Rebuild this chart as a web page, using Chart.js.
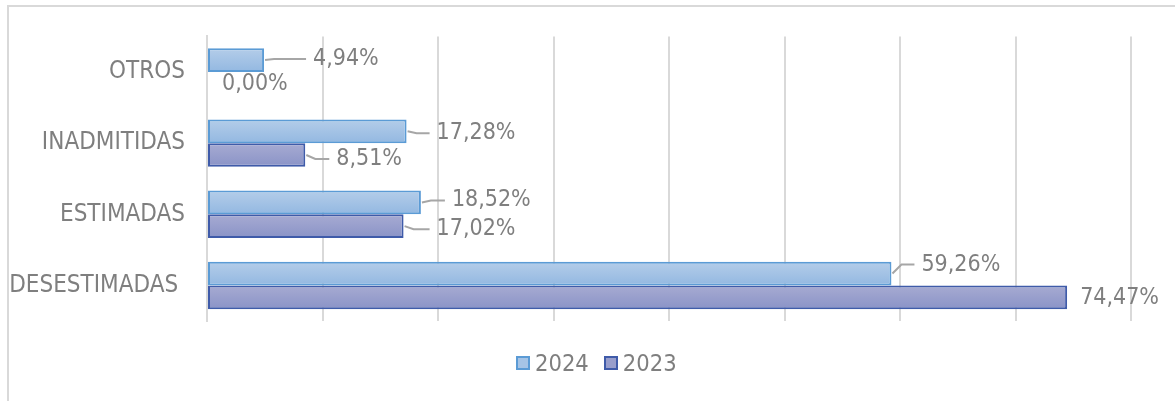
<!DOCTYPE html>
<html>
<head>
<meta charset="utf-8">
<script src="https://cdn.jsdelivr.net/npm/chart.js@4"></script>
<style>
  body { margin: 0; background: #fff; }
  #wrap { position: relative; width: 1175px; height: 401px; overflow: hidden; }
  #frame { position: absolute; left: 7px; top: 5px; width: 1200px; height: 420px;
           border-top: 2px solid #d9d9d9; border-left: 2px solid #d9d9d9; }
  canvas { position: absolute; left: 0; top: 0; }
  #legend { position: absolute; top: 349px; left: 516px; font: 23.5px 'DejaVu Sans Condensed', 'DejaVu Sans', sans-serif;
            color: #7f7f7f; display: flex; align-items: center; white-space: nowrap; }
  #legend span.box { display: inline-block; width: 10px; height: 10px; border: 2px solid; margin-right: 5px; }
  #legend span.item { display: inline-flex; align-items: center; margin-right: 15px; }
</style>
</head>
<body>
<div id="wrap">
  <div id="frame"></div>
  <canvas id="chart" width="1175" height="401"></canvas>
  <div id="legend">
    <span class="item"><span class="box" style="background:#a6c4e6;border-color:#5b9bd5"></span>2024</span>
    <span class="item"><span class="box" style="background:#989ecc;border-color:#3f5ba9"></span>2023</span>
  </div>
</div>
<script>
// data
const categories = ['OTROS', 'INADMITIDAS', 'ESTIMADAS', 'DESESTIMADAS '];
const values2024 = [4.94, 17.28, 18.52, 59.26];
const values2023 = [0, 8.51, 17.02, 74.47];
const axisMax = 80;
const axisStep = 10;

// where each value label sits, relative to the end of its bar (px)
const labelOffsets2024 = [[49, -1], [30, 2], [31, -2], [30, -9]];
const labelOffsets2023 = [[15, 0], [31, 4], [33, 3], [13, 1]];

const FONT = "'DejaVu Sans Condensed', 'DejaVu Sans', sans-serif";
const TEXT = '#7f7f7f';

const gradients = [
    ['#b4cde9', '#93b8e1'],
    ['#a7abd2', '#8a93c7'],
];

// vertical gradient inside each bar
const barGradient = {
    id: 'barGradient',
    beforeDatasetsDraw(chart) {
        const ctx = chart.ctx;
        chart.data.datasets.forEach((ds, i) => {
            chart.getDatasetMeta(i).data.forEach(el => {
                const { y, height } = el.getProps(['y', 'height'], true);
                const g = ctx.createLinearGradient(0, y - height / 2, 0, y + height / 2);
                g.addColorStop(0, gradients[i][0]);
                g.addColorStop(1, gradients[i][1]);
                el.options = Object.assign({}, el.options, { backgroundColor: g });
            });
        });
    }
};

// value labels with leader lines
const valueLabels = {
    id: 'valueLabels',
    afterDatasetsDraw(chart) {
        const ctx = chart.ctx;
        const offsets = [labelOffsets2024, labelOffsets2023];
        ctx.save();
        ctx.font = '23px ' + FONT;
        ctx.textBaseline = 'middle';
        ctx.textAlign = 'left';
        chart.data.datasets.forEach((ds, i) => {
            chart.getDatasetMeta(i).data.forEach((el, j) => {
                const { x, y } = el.getProps(['x', 'y'], true);
                const [dx, dy] = offsets[i][j];
                const lx = x + dx, ly = y + dy;
                if (dx > 20) {
                    ctx.strokeStyle = '#a6a6a6';
                    ctx.lineWidth = 2;
                    ctx.beginPath();
                    ctx.moveTo(x + 1, y);
                    ctx.lineTo(x + 10, ly);
                    ctx.lineTo(lx - 7, ly);
                    ctx.stroke();
                }
                ctx.fillStyle = TEXT;
                ctx.fillText(ds.data[j].toFixed(2).replace('.', ',') + '%', lx, ly);
            });
        });
        ctx.restore();
    }
};

new Chart(document.getElementById('chart'), {
    type: 'bar',
    data: {
        labels: categories,
        datasets: [
            { label: '2024', data: values2024, backgroundColor: '#a6c4e6', borderColor: '#5b9bd5', borderWidth: 2, borderSkipped: false },
            { label: '2023', data: values2023, backgroundColor: '#989ecc', borderColor: '#3f5ba9', borderWidth: 2, borderSkipped: false },
        ],
    },
    options: {
        indexAxis: 'y',
        responsive: false,
        animation: false,
        layout: { padding: { top: 33, right: 44, bottom: 80, left: 0 } },
        datasets: { bar: { categoryPercentage: 0.667, barPercentage: 1 } },
        plugins: {
            legend: { display: false },
            tooltip: { enabled: false },
        },
        scales: {
            x: {
                min: 0,
                max: axisMax,
                ticks: { display: false, stepSize: axisStep },
                grid: { color: '#d9d9d9', lineWidth: 2, drawTicks: false },
                border: { display: false },
                afterFit(scale) { scale.height = 0; },
            },
            y: {
                ticks: { color: TEXT, font: { family: FONT, size: 24 }, padding: 22 },
                grid: { display: false, drawTicks: false },
                border: { display: true, color: '#d9d9d9', width: 2 },
                afterFit(scale) { scale.width = 207; },
            },
        },
    },
    plugins: [barGradient, valueLabels],
});
</script>
</body>
</html>
